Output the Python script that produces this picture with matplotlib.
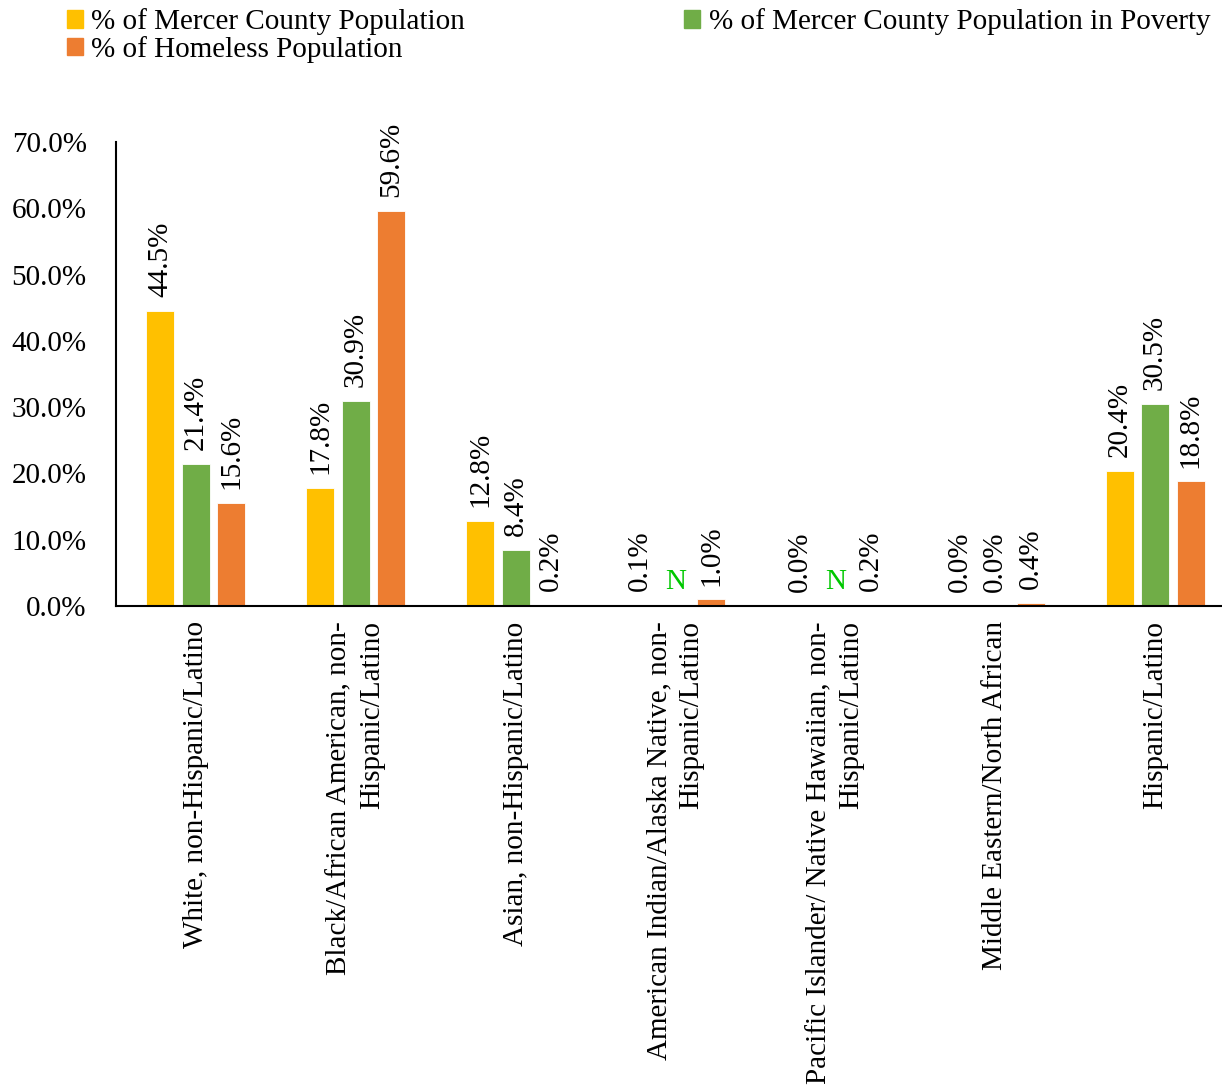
import numpy as np
import matplotlib
matplotlib.use("Agg")
from matplotlib import pyplot as plt
from matplotlib.patches import Patch

plt.rcParams['font.family'] = ['Liberation Serif', 'DejaVu Serif']

categories = ['White, non-Hispanic/Latino',
              'Black/African American, non-\nHispanic/Latino',
              'Asian, non-Hispanic/Latino',
              'American Indian/Alaska Native, non-\nHispanic/Latino',
              'Pacific Islander/ Native Hawaiian, non-\nHispanic/Latino',
              'Middle Eastern/North African',
              'Hispanic/Latino']
pop_pct = [44.5, 17.8, 12.8, 0.1, 0.0, 0.0, 20.4]
poverty_pct = [21.4, 30.9, 8.4, None, None, 0.0, 30.5]   # None -> "N"
homeless_pct = [15.6, 59.6, 0.2, 1.0, 0.2, 0.4, 18.8]
series_names = ['% of Mercer County Population',
                '% of Mercer County Population in Poverty',
                '% of Homeless Population']
colors = ['#FFC000', '#70AD47', '#ED7D31']

fs = 21
fig = plt.figure(figsize=(12.22, 10.89), dpi=100)
ax = fig.add_axes([0.0949, 0.4435, 0.9157, 0.4261])

x = np.arange(len(categories))
w = 0.175
step = 0.222
for i, (vals, col) in enumerate(zip([pop_pct, poverty_pct, homeless_pct], colors)):
    xs = x + (i - 1) * step
    for xi, v in zip(xs, vals):
        if v is None:
            ax.text(xi, 1.6, 'N', color='#00C800', fontsize=fs,
                    ha='center', va='bottom')
            continue
        ax.bar(xi, v, width=w, color=col, edgecolor='white', linewidth=0.6)
        ax.annotate(f'{v:.1f}%', xy=(xi, v), xytext=(0, 10),
                    textcoords='offset points', rotation=90,
                    ha='center', va='bottom', fontsize=fs)

ax.set_ylim(0, 70)
ax.set_xlim(-0.5, len(categories) - 0.5)
ax.set_yticks(np.arange(0, 71, 10))
ax.set_yticklabels([f'{t:.1f}%' for t in np.arange(0, 71, 10)], fontsize=fs)
ax.set_xticks(x)
ax.set_xticklabels(categories, rotation=90, fontsize=fs, ha='center',
                   va='top', multialignment='right', linespacing=1.3)
ax.tick_params(axis='x', length=0, pad=11)
ax.tick_params(axis='y', length=0, pad=21)
for s in ['top', 'right']:
    ax.spines[s].set_visible(False)
ax.spines['left'].set_linewidth(1.5)
ax.spines['bottom'].set_linewidth(1.5)

handles = [Patch(color=c) for c in colors]
# order so rows read: pop, poverty / homeless
order = [0, 2, 1]
fig.legend([handles[k] for k in order], [series_names[k] for k in order],
           loc='upper left', bbox_to_anchor=(0.045, 1.003), ncol=2,
           frameon=False, fontsize=fs, handlelength=0.55, handleheight=0.55,
           handletextpad=0.3, columnspacing=7.5, labelspacing=0.02,
           borderaxespad=0)

fig.savefig('out.png', dpi=100)
